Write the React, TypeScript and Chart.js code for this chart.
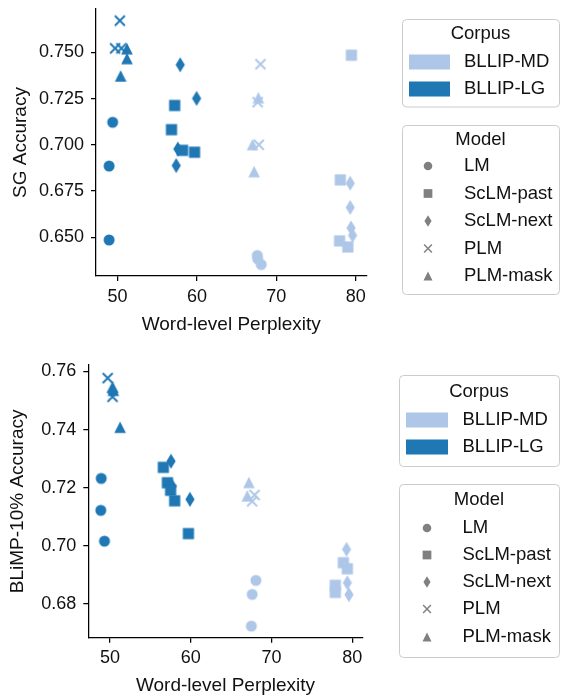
import React, { useEffect, useRef } from "react";
import { Chart, registerables } from "chart.js";

Chart.register(...registerables);

// ---------- categories ----------
const CORPORA = ["BLLIP-MD", "BLLIP-LG"];
const MODELS = ["LM", "ScLM-past", "ScLM-next", "PLM", "PLM-mask"];
const CORPUS_COLORS = ["#aec7e8", "#1f77b4"];
const MODEL_SHAPES = ["circle", "square", "diamond", "x", "triangle"];

// ---------- SG accuracy vs perplexity: [perplexity, accuracy] ----------
const SG_MD_LM = [[67.6, 0.6401], [67.65, 0.6383], [68.1, 0.6352]];
const SG_MD_SCLM_PAST = [[79.45, 0.7485], [78.05, 0.681], [77.96, 0.648], [79.0, 0.6447]];
const SG_MD_SCLM_NEXT = [[79.3, 0.6792], [79.3, 0.6661], [79.4, 0.655], [79.6, 0.651]];
const SG_MD_PLM = [[68.0, 0.7436], [67.65, 0.7231], [67.8, 0.7]];
const SG_MD_PLM_MASK = [[67.74, 0.7255], [67.0, 0.7001], [67.2, 0.6855]];
const SG_LG_LM = [[49.4, 0.7122], [48.95, 0.6885], [48.95, 0.6485]];
const SG_LG_SCLM_PAST = [[57.2, 0.7213], [56.8, 0.7082], [58.2, 0.697], [59.7, 0.696]];
const SG_LG_SCLM_NEXT = [[57.9, 0.7433], [59.96, 0.7251], [57.6, 0.6977], [57.4, 0.6888]];
const SG_LG_PLM = [[50.3, 0.7672], [49.7, 0.7522], [50.5, 0.7522]];
const SG_LG_PLM_MASK = [[51.2, 0.752], [51.2, 0.7467], [50.4, 0.7373]];

// ---------- BLiMP-10% accuracy vs perplexity ----------
const BL_MD_LM = [[68.07, 0.6881], [67.6, 0.6833], [67.5, 0.6724]];
const BL_MD_SCLM_PAST = [[78.9, 0.6942], [79.4, 0.6921], [77.9, 0.6864], [77.9, 0.684]];
const BL_MD_SCLM_NEXT = [[79.3, 0.6988], [79.4, 0.6873], [79.6, 0.6832]];
const BL_MD_PLM = [[67.9, 0.7175], [67.6, 0.7153]];
const BL_MD_PLM_MASK = [[67.2, 0.7218], [67.0, 0.7172]];
const BL_LG_LM = [[48.9, 0.7232], [48.85, 0.7122], [49.3, 0.7016]];
const BL_LG_SCLM_PAST = [[56.6, 0.727], [57.1, 0.7217], [57.5, 0.7191], [58.0, 0.7155], [59.7, 0.7042]];
const BL_LG_SCLM_NEXT = [[57.55, 0.7291], [57.7, 0.7205], [59.9, 0.716]];
const BL_LG_PLM = [[49.7, 0.7577], [50.3, 0.7513]];
const BL_LG_PLM_MASK = [[50.3, 0.7547], [50.4, 0.7535], [51.24, 0.7408]];

// ---------- ticks ----------
const X_TICKS = [50, 60, 70, 80];
const SG_Y_TICKS = [0.65, 0.675, 0.7, 0.725, 0.75];
const BL_Y_TICKS = [0.68, 0.7, 0.72, 0.74, 0.76];

const SG_SERIES = [
  [SG_MD_LM, SG_MD_SCLM_PAST, SG_MD_SCLM_NEXT, SG_MD_PLM, SG_MD_PLM_MASK],
  [SG_LG_LM, SG_LG_SCLM_PAST, SG_LG_SCLM_NEXT, SG_LG_PLM, SG_LG_PLM_MASK],
];
const BL_SERIES = [
  [BL_MD_LM, BL_MD_SCLM_PAST, BL_MD_SCLM_NEXT, BL_MD_PLM, BL_MD_PLM_MASK],
  [BL_LG_LM, BL_LG_SCLM_PAST, BL_LG_SCLM_NEXT, BL_LG_PLM, BL_LG_PLM_MASK],
];

const FONT = "'Liberation Sans', Arial, Helvetica, sans-serif";
const TEXT = "#111111";

function drawMarker(ctx, shape, cx, cy, s, color) {
  ctx.save();
  ctx.fillStyle = color;
  ctx.strokeStyle = color;
  ctx.beginPath();
  if (shape === "circle") {
    ctx.arc(cx, cy, 5.5 * s, 0, Math.PI * 2);
    ctx.fill();
  } else if (shape === "square") {
    const h = 5.6 * s;
    ctx.rect(cx - h, cy - h, 2 * h, 2 * h);
    ctx.fill();
  } else if (shape === "diamond") {
    const hh = 7.4 * s, hw = 4.6 * s;
    ctx.moveTo(cx, cy - hh);
    ctx.lineTo(cx + hw, cy);
    ctx.lineTo(cx, cy + hh);
    ctx.lineTo(cx - hw, cy);
    ctx.closePath();
    ctx.fill();
  } else if (shape === "x") {
    const h = 5 * s;
    ctx.lineWidth = 1.9 * s;
    ctx.moveTo(cx - h, cy - h);
    ctx.lineTo(cx + h, cy + h);
    ctx.moveTo(cx + h, cy - h);
    ctx.lineTo(cx - h, cy + h);
    ctx.stroke();
  } else if (shape === "triangle") {
    const h = 5.8 * s;
    ctx.moveTo(cx, cy - h);
    ctx.lineTo(cx + h, cy + h);
    ctx.lineTo(cx - h, cy + h);
    ctx.closePath();
    ctx.fill();
  }
  ctx.restore();
}

function makeSprite(shape, color) {
  const c = document.createElement("canvas");
  c.width = 20;
  c.height = 20;
  const ctx = c.getContext("2d");
  drawMarker(ctx, shape, 10, 10, 1, color);
  return c;
}

function roundRect(ctx, x, y, w, h, r) {
  ctx.beginPath();
  ctx.moveTo(x + r, y);
  ctx.lineTo(x + w - r, y);
  ctx.arcTo(x + w, y, x + w, y + r, r);
  ctx.lineTo(x + w, y + h - r);
  ctx.arcTo(x + w, y + h, x + w - r, y + h, r);
  ctx.lineTo(x + r, y + h);
  ctx.arcTo(x, y + h, x, y + h - r, r);
  ctx.lineTo(x, y + r);
  ctx.arcTo(x, y, x + r, y, r);
  ctx.closePath();
}

function makeLegendPlugin(L) {
  return {
    id: "customLegend",
    afterDraw(chart) {
      const ctx = chart.ctx;
      ctx.save();
      ctx.font = `18.5px ${FONT}`;
      ctx.textBaseline = "middle";
      // Corpus box
      const cb = L.corpusBox;
      roundRect(ctx, cb[0] + 0.5, cb[1] + 0.5, cb[2] - cb[0], cb[3] - cb[1], 4);
      ctx.fillStyle = "#ffffff";
      ctx.fill();
      ctx.strokeStyle = "#cccccc";
      ctx.lineWidth = 1;
      ctx.stroke();
      ctx.fillStyle = TEXT;
      ctx.textAlign = "center";
      ctx.fillText("Corpus", (cb[0] + cb[2]) / 2, L.corpusTitleY);
      CORPORA.forEach((name, i) => {
        const y = L.corpusItemsY[i];
        ctx.fillStyle = CORPUS_COLORS[i];
        ctx.fillRect(L.patchX[0], y - 7.5, L.patchX[1] - L.patchX[0], 15);
        ctx.fillStyle = TEXT;
        ctx.textAlign = "left";
        ctx.fillText(name, L.textX, y);
      });
      // Model box
      const mb = L.modelBox;
      roundRect(ctx, mb[0] + 0.5, mb[1] + 0.5, mb[2] - mb[0], mb[3] - mb[1], 4);
      ctx.fillStyle = "#ffffff";
      ctx.fill();
      ctx.strokeStyle = "#cccccc";
      ctx.stroke();
      ctx.fillStyle = TEXT;
      ctx.textAlign = "center";
      ctx.fillText("Model", (mb[0] + mb[2]) / 2, L.modelTitleY);
      MODELS.forEach((name, i) => {
        const y = L.modelItemsY[i];
        drawMarker(ctx, MODEL_SHAPES[i], L.markerX, y, 0.78, "#808080");
        ctx.fillStyle = TEXT;
        ctx.textAlign = "left";
        ctx.fillText(name, L.textX, y);
      });
      ctx.restore();
    },
  };
}

function ScatterPanel({ width, height, series, yTicks, yMin, yMax, xMin, xMax, decimals, yTitle, area, legend }) {
  const ref = useRef(null);
  useEffect(() => {
    const datasets = [];
    series.forEach((bySeries, ci) => {
      bySeries.forEach((pts, mi) => {
        datasets.push({
          label: `${CORPORA[ci]} ${MODELS[mi]}`,
          data: pts.map(([x, y]) => ({ x, y })),
          pointStyle: makeSprite(MODEL_SHAPES[mi], CORPUS_COLORS[ci]),
          pointRadius: 6,
          backgroundColor: CORPUS_COLORS[ci],
          borderColor: CORPUS_COLORS[ci],
        });
      });
    });
    const tickFont = { family: FONT, size: 18 };
    const titleFont = { family: FONT, size: 19 };
    const chart = new Chart(ref.current, {
      type: "scatter",
      data: { datasets },
      options: {
        animation: false,
        responsive: false,
        maintainAspectRatio: false,
        devicePixelRatio: 1,
        events: [],
        layout: { padding: { top: area.top, right: area.right, left: 0, bottom: 0 } },
        plugins: { legend: { display: false }, tooltip: { enabled: false } },
        scales: {
          x: {
            type: "linear",
            min: xMin,
            max: xMax,
            afterBuildTicks: (s) => {
              s.ticks = X_TICKS.map((v) => ({ value: v }));
            },
            afterFit: (s) => {
              s.height = area.xHeight;
              s.paddingLeft = 0;
              s.paddingRight = 0;
            },
            grid: { display: true, drawOnChartArea: false, drawTicks: true, tickLength: 5, color: "#000", lineWidth: 1.25 },
            border: { display: true, color: "#000", width: 1.25 },
            ticks: { font: tickFont, color: TEXT, padding: 5, maxRotation: 0, callback: (v) => String(v) },
            title: { display: true, text: "Word-level Perplexity", font: titleFont, color: TEXT, padding: { top: 0, bottom: area.xTitlePad } },
          },
          y: {
            type: "linear",
            min: yMin,
            max: yMax,
            afterBuildTicks: (s) => {
              s.ticks = yTicks.map((v) => ({ value: v }));
            },
            afterFit: (s) => {
              s.width = area.yWidth;
              s.paddingTop = 0;
              s.paddingBottom = 0;
            },
            grid: { display: true, drawOnChartArea: false, drawTicks: true, tickLength: 5, color: "#000", lineWidth: 1.25 },
            border: { display: true, color: "#000", width: 1.25 },
            ticks: { font: tickFont, color: TEXT, padding: 7, callback: (v) => Number(v).toFixed(decimals) },
            title: { display: true, text: yTitle, font: titleFont, color: TEXT, padding: { top: area.yTitlePad, bottom: 0 } },
          },
        },
      },
      plugins: [makeLegendPlugin(legend)],
    });
    return () => chart.destroy();
  }, []);
  return <canvas ref={ref} width={width} height={height} style={{ display: "block", width, height }} />;
}

const TOP_LEGEND = {
  corpusBox: [402, 19, 559, 106.5],
  corpusTitleY: 34,
  corpusItemsY: [62, 89],
  patchX: [409, 450],
  textX: 464,
  modelBox: [402, 125, 559, 294],
  modelTitleY: 140,
  modelItemsY: [166, 193.5, 221, 248.5, 276],
  markerX: 428,
};

const BOTTOM_LEGEND = {
  corpusBox: [399, 27, 559, 118],
  corpusTitleY: 43.5,
  corpusItemsY: [72, 99],
  patchX: [406, 448],
  textX: 462.5,
  modelBox: [399, 136, 559, 309],
  modelTitleY: 152,
  modelItemsY: [180, 207, 234, 261, 289],
  markerX: 427,
};

export default function App() {
  return (
    <div style={{ position: "absolute", left: 0, top: 0, width: 562, height: 697, background: "#fff" }}>
      <ScatterPanel
        width={562}
        height={348}
        series={SG_SERIES}
        yTicks={SG_Y_TICKS}
        yMin={0.629}
        yMax={0.7735}
        xMin={47.3}
        xMax={81.35}
        decimals={3}
        yTitle="SG Accuracy"
        area={{ top: 9, right: 195.5, xHeight: 72, yWidth: 96, xTitlePad: 11.5, yTitlePad: 9 }}
        legend={TOP_LEGEND}
      />
      <ScatterPanel
        width={562}
        height={349}
        series={BL_SERIES}
        yTicks={BL_Y_TICKS}
        yMin={0.6684}
        yMax={0.7622}
        xMin={47.3}
        xMax={81.3}
        decimals={2}
        yTitle="BLiMP-10% Accuracy"
        area={{ top: 17, right: 199.3, xHeight: 59.3, yWidth: 88.3, xTitlePad: 0, yTitlePad: 6.5 }}
        legend={BOTTOM_LEGEND}
      />
    </div>
  );
}
